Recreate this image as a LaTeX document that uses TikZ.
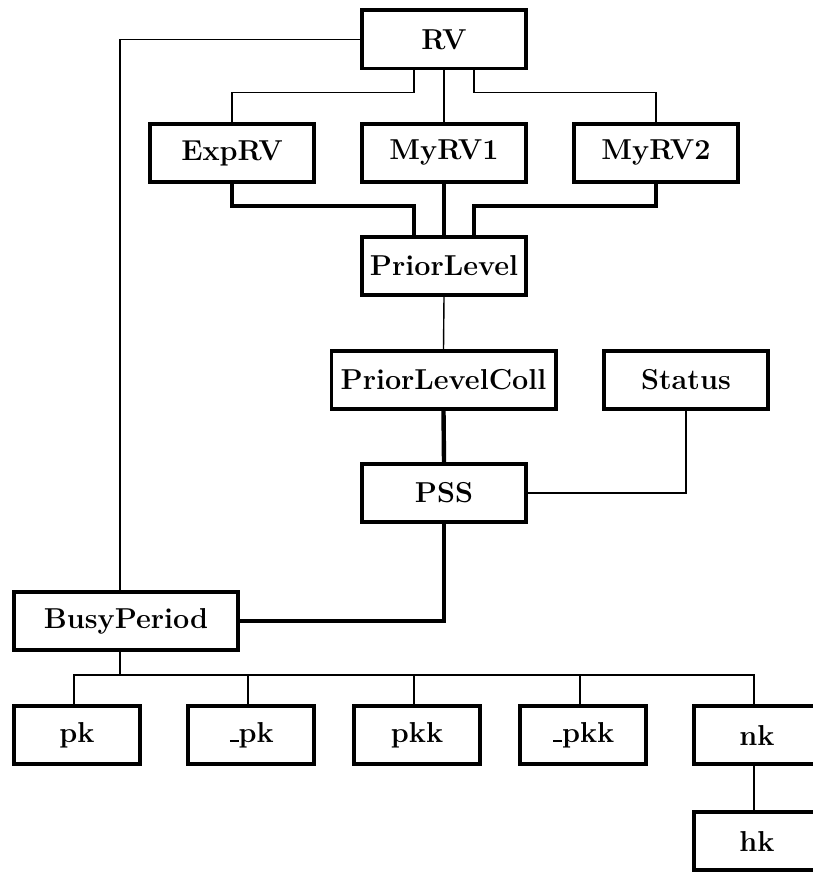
\documentclass[tikz,border=0pt]{standalone}
\usetikzlibrary{calc, positioning}

\newcommand{\lowbar}{\leavevmode\kern.06em\vbox{\hrule width.3em height.07em}}

\begin{document}
\begin{tikzpicture}[x=1pt, y=-1pt,
    box/.style={draw=borderColour, line width=3.6pt, minimum width=164.4pt, minimum height=58.4pt, inner sep=0pt, font=\fontsize{28.8}{30}\selectfont\bfseries},
    smallbox/.style={box, minimum width=126.4pt},
    widebox/.style={box, minimum width=224.4pt},
    thinline/.style={draw=borderColour, line width=1.4pt},
    thickline/.style={draw=borderColour, line width=4.4pt, line cap=round}]

    \definecolor{borderColour}{HTML}{000000}

    % Fix the picture size
    \useasboundingbox (0,0) rectangle (813,872);

    % Define the offset of the side branches
    \def\branchOffset{30}

    % Draw the class boxes
    \node[box] (RV) at (444,39.5) {RV};
    \node[box] (ExpRV) at (232,153) {ExpRV};
    \node[box] (MyRVone) at (444,153) {MyRV1};
    \node[box] (MyRVtwo) at (656,153) {MyRV2};
    \node[box] (PriorLevel) at (444,266) {PriorLevel};
    \node[widebox] (PriorLevelColl) at (443.5,380) {PriorLevelColl};
    \node[box] (Status) at (686,380) {Status};
    \node[box] (PSS) at (444,493) {PSS};
    \node[widebox] (BusyPeriod) at (126,621) {BusyPeriod};

    % Draw the member boxes
    \node[smallbox] (pk) at (77,735) {pk};
    \node[smallbox] (upk) at (251,735) {\lowbar pk};
    \node[smallbox] (pkk) at (417,735) {pkk};
    \node[smallbox] (upkk) at (583,735) {\lowbar pkk};
    \node[smallbox] (nk) at (757,735) {nk};
    \node[smallbox] (hk) at (757,841) {hk};

    % Draw the thin connectors from RV
    \draw[thinline] (RV.west) -| ([xshift=-6pt]BusyPeriod.north);
    \draw[thinline] ([xshift=-\branchOffset]RV.south) -- ++(0,22) -| (ExpRV.north);
    \draw[thinline] (RV.south) -- (MyRVone.north);
    \draw[thinline] ([xshift=\branchOffset]RV.south) -- ++(0,22) -| (MyRVtwo.north);

    % Draw the thick connectors into PriorLevel
    \draw[thickline] (ExpRV.south) -- ++(0,22) -| ([xshift=-\branchOffset]PriorLevel.north);
    \draw[thickline] (MyRVone.south) -- (PriorLevel.north);
    \draw[thickline] (MyRVtwo.south) -- ++(0,22) -| ([xshift=\branchOffset]PriorLevel.north);

    % Draw the middle connectors
    \draw[thinline] (PriorLevel.south) -- (PriorLevelColl.north);
    \draw[thickline] (PriorLevelColl.south) -- (PSS.north);
    \draw[thinline] (Status.south) |- (PSS.east);
    \draw[thickline] (PSS.south) |- (BusyPeriod.east);

    % Draw the connectors to the members
    \draw[thinline] ([xshift=-6pt]BusyPeriod.south) -- ++(0,23) coordinate (bus);
    \foreach \member in {pk, upk, pkk, upkk, nk}
        \draw[thinline] (bus) -| ([xshift=-3pt]\member.north);
    \draw[thinline] ([xshift=-3pt]nk.south) -- ([xshift=-3pt]hk.north);

\end{tikzpicture}
\end{document}
